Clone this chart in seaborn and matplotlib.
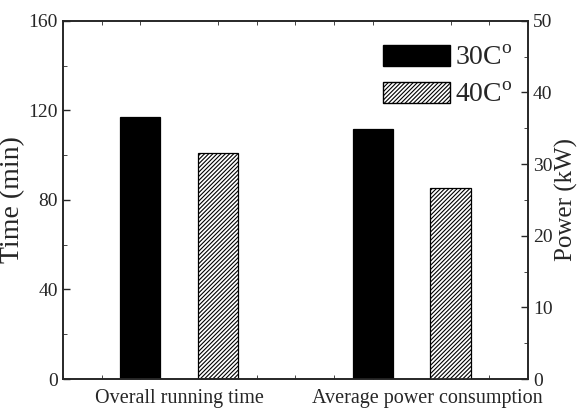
import matplotlib
matplotlib.use('Agg')
import matplotlib.pyplot as plt
from matplotlib.patches import Patch
from matplotlib.ticker import MultipleLocator
from matplotlib.transforms import ScaledTranslation
import pandas as pd
import seaborn as sns

categories = ['Overall running time', 'Average power consumption']
temps = ['30C$^\\mathrm{o}$', '40C$^\\mathrm{o}$']
time_min = [117.0, 101.0]      # overall running time, left axis
power_kw = [34.9, 26.7]        # average power consumption, right axis

sns.set_style('ticks')
plt.rcParams['font.family'] = ['Liberation Serif', 'DejaVu Serif']
plt.rcParams['mathtext.fontset'] = 'custom'
plt.rcParams['mathtext.rm'] = 'Liberation Serif'
plt.rcParams['hatch.linewidth'] = 0.8
plt.rcParams['hatch.color'] = '#222222'

time_df = pd.DataFrame({'Metric': categories[0], 'Temp': temps, 'Value': time_min})
power_df = pd.DataFrame({'Metric': categories[1], 'Temp': temps, 'Value': power_kw})

fig = plt.figure(figsize=(5.81, 4.08), dpi=100)
ax = fig.add_axes([0.108, 0.071, 0.801, 0.878])
ax2 = ax.twinx()

bar_kw = dict(x='Metric', y='Value', hue='Temp', order=categories, hue_order=temps,
              width=0.667, gap=0.48, legend=False, saturation=1)
sns.barplot(data=time_df, ax=ax, **bar_kw)
sns.barplot(data=power_df, ax=ax2, **bar_kw)

styles = {temps[0]: dict(facecolor='black', hatch=None), temps[1]: dict(facecolor='white', hatch='////////')}
for a in (ax, ax2):
    for cont, t in zip(a.containers, temps):
        for p in cont:
            p.set_facecolor(styles[t]['facecolor'])
            p.set_edgecolor('black')
            p.set_linewidth(0.9)
            if styles[t]['hatch']:
                p.set_hatch(styles[t]['hatch'])

ax.set_xlim(-0.5, 1.5)
ax.set_ylim(0, 160)
ax2.set_ylim(0, 50)
ax.yaxis.set_major_locator(MultipleLocator(40))
ax.yaxis.set_minor_locator(MultipleLocator(20))
ax2.yaxis.set_major_locator(MultipleLocator(10))
ax2.yaxis.set_minor_locator(MultipleLocator(5))
ax.xaxis.set_minor_locator(MultipleLocator(1 / 6))

ax.set_xlabel('')
ax.set_ylabel('Time (min)', fontsize=20, labelpad=2)
ax2.set_xlabel('')
ax2.set_ylabel('Power (kW)', fontsize=18, labelpad=2)
ax.tick_params(axis='x', which='both', direction='in', top=True, labelsize=14.5, length=0, pad=7)
ax.tick_params(axis='x', which='minor', length=3)
ax.tick_params(axis='y', which='major', direction='in', labelsize=14, length=5, width=1)
ax.tick_params(axis='y', which='minor', direction='in', length=3)
ax2.tick_params(axis='y', which='major', direction='in', labelsize=14, length=5, width=1)
ax2.tick_params(axis='y', which='minor', direction='in', length=3)
for a in (ax, ax2):
    for s in a.spines.values():
        s.set_visible(True)
        s.set_linewidth(1.2)

# second category label sits a bit right of its group centre in the original
lab = ax.get_xticklabels()[1]
lab.set_transform(lab.get_transform() + ScaledTranslation(0.16, 0, fig.dpi_scale_trans))

handles = [Patch(facecolor='black', edgecolor='black', label=temps[0]),
           Patch(facecolor='white', edgecolor='black', hatch='////////', label=temps[1])]
ax2.legend(handles=handles, loc='upper right', bbox_to_anchor=(1.003, 0.98), frameon=False,
           fontsize=20, handlelength=2.4, handleheight=0.8, labelspacing=0.4, handletextpad=0.2,
           borderaxespad=0.2)

fig.savefig('out.png', dpi=100)
